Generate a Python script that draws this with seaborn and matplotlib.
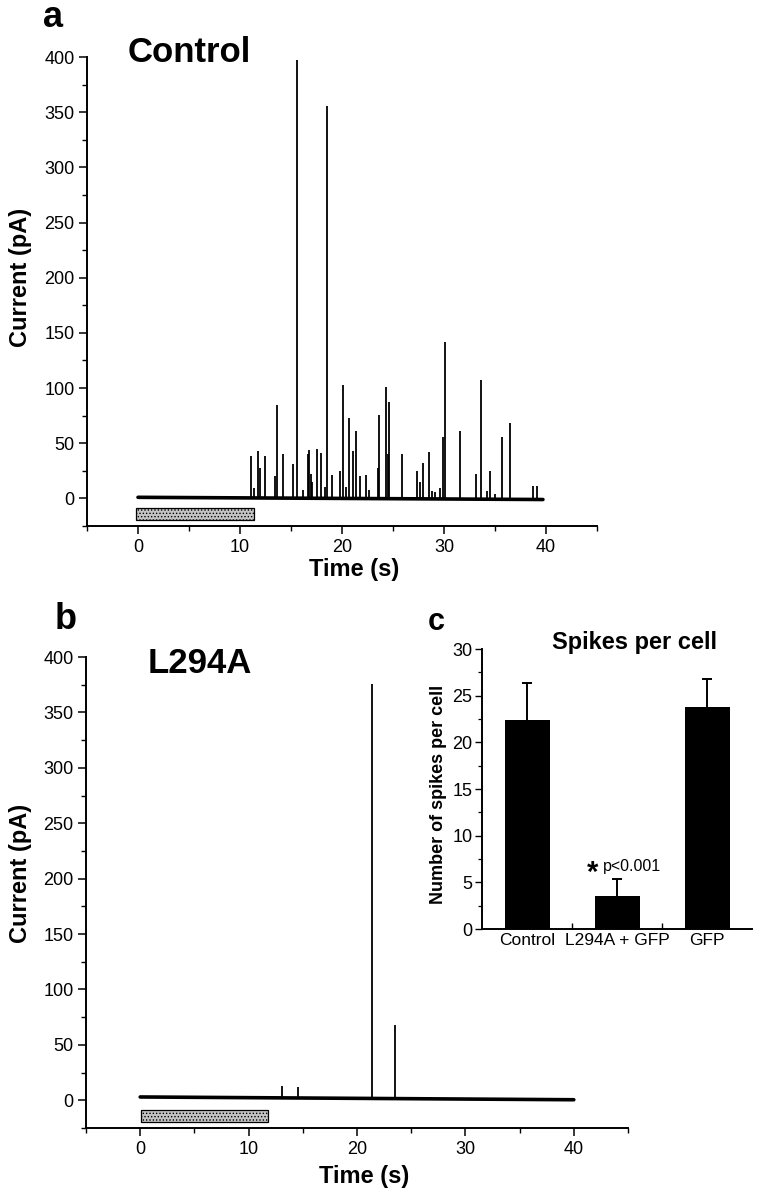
import numpy as np
import pandas as pd
import matplotlib
matplotlib.use('Agg')
import matplotlib.pyplot as plt
from matplotlib.patches import Rectangle
from matplotlib.ticker import MultipleLocator, FixedLocator
import seaborn as sns

# Panel a: control trace, spike times (s) and peak amplitudes (pA)
control_spike_t = [11.1, 11.4, 11.8, 12.0, 12.45, 13.4, 13.67, 14.2, 15.2, 15.6,
                   16.2, 16.7, 16.8, 17.0, 17.1, 17.5, 17.9, 18.3, 18.55, 19.0,
                   19.85, 20.1, 20.4, 20.7, 21.1, 21.4, 21.75, 22.4, 22.6, 23.55,
                   23.65, 24.35, 24.5, 24.6, 25.85, 27.4, 27.6, 27.9, 28.5, 28.8,
                   29.1, 29.6, 29.9, 30.06, 31.55, 33.1, 33.6, 34.2, 34.5, 35.0,
                   35.7, 36.5, 38.75, 39.1]
control_spike_amp = [38, 9, 43, 28, 38, 20, 85, 40, 31, 397,
                     8, 40, 44, 22, 15, 45, 41, 10, 356, 21,
                     25, 103, 10, 73, 43, 61, 20, 21, 8, 28,
                     76, 101, 40, 87, 40, 25, 15, 32, 42, 7,
                     6, 9, 56, 142, 61, 22, 107, 7, 25, 4,
                     56, 68, 11, 11]
control_base_t = [0.0, 39.7]
control_base_v = [1.0, -1.0]
control_stim = [-0.2, 11.4]

# Panel b: L294A trace
mutant_spike_t = [13.1, 14.55, 21.35, 23.5]
mutant_spike_amp = [13, 12, 376, 68]
mutant_base_t = [0.0, 40.0]
mutant_base_v = [3.0, 0.5]
mutant_stim = [0.1, 11.8]

# Panel c: spikes per cell
groups = ['Control', 'L294A + GFP', 'GFP']
spikes_mean = [22.4, 3.5, 23.8]
spikes_sem = [4.0, 1.9, 3.0]

sns.set_style('ticks')
plt.rcParams['font.family'] = ['Liberation Sans', 'DejaVu Sans']
plt.rcParams['hatch.linewidth'] = 0.6
plt.rcParams['axes.linewidth'] = 1.4
for key in ['text.color', 'axes.labelcolor', 'xtick.color', 'ytick.color',
            'axes.edgecolor']:
    plt.rcParams[key] = 'black'

W, H = 759, 1199
fig = plt.figure(figsize=(W / 100, H / 100), dpi=100)


def px_axes(x0, x1, ytop, ybot):
    return fig.add_axes([x0 / W, 1 - ybot / H, (x1 - x0) / W, (ybot - ytop) / H])


def trace_panel(ax, spike_t, spike_amp, base_t, base_v, stim):
    ax.plot(base_t, base_v, color='black', lw=2.6, solid_capstyle='round')
    base_at = np.interp(spike_t, base_t, base_v)
    ax.vlines(spike_t, base_at, spike_amp, color='black', lw=1.3)
    ax.add_patch(Rectangle((stim[0], -20), stim[1] - stim[0], 11,
                           facecolor='#c4c4c4', edgecolor='black', lw=0.9,
                           hatch='.....'))
    ax.set_xlim(-5, 45)
    ax.set_ylim(-25, 400)
    ax.xaxis.set_major_locator(FixedLocator([0, 10, 20, 30, 40]))
    ax.xaxis.set_minor_locator(FixedLocator([-5, 5, 15, 25, 35, 45]))
    ax.yaxis.set_major_locator(FixedLocator([0, 50, 100, 150, 200, 250, 300, 350, 400]))
    ax.yaxis.set_minor_locator(FixedLocator([-25, 25, 75, 125, 175, 225, 275, 325, 375]))
    ax.tick_params(which='major', length=6, width=1.1, labelsize=13, pad=3)
    ax.tick_params(which='minor', length=3.5, width=1.0)
    sns.despine(ax=ax)
    ax.set_xlabel('Time (s)', fontsize=17, fontweight='bold')
    ax.set_ylabel('Current (pA)', fontsize=17, fontweight='bold')


# a
ax_a = px_axes(87, 597, 57, 526)
trace_panel(ax_a, control_spike_t, control_spike_amp, control_base_t,
            control_base_v, control_stim)
ax_a.xaxis.set_label_coords(0.524, -0.068)
ax_a.yaxis.set_label_coords(-0.108, 0.53)

# b
ax_b = px_axes(86, 628, 657, 1128)
trace_panel(ax_b, mutant_spike_t, mutant_spike_amp, mutant_base_t,
            mutant_base_v, mutant_stim)
ax_b.xaxis.set_label_coords(0.513, -0.078)
ax_b.yaxis.set_label_coords(-0.100, 0.54)

# c
ax_c = px_axes(482, 752, 649, 929)
df = pd.DataFrame({'group': groups, 'spikes': spikes_mean})
sns.barplot(data=df, x='group', y='spikes', order=groups, color='black',
            width=0.5, errorbar=None, saturation=1, linewidth=0, ax=ax_c)
# upper error bars only
xpos = np.arange(len(groups))
tops = np.array(spikes_mean) + np.array(spikes_sem)
ax_c.vlines(xpos, spikes_mean, tops, color='black', lw=1.4)
ax_c.hlines(tops, xpos - 0.055, xpos + 0.055, color='black', lw=1.4)
ax_c.set_xlim(-0.5, 2.5)
ax_c.set_ylim(0, 30)
ax_c.yaxis.set_major_locator(MultipleLocator(5))
ax_c.yaxis.set_minor_locator(MultipleLocator(2.5))
ax_c.xaxis.set_minor_locator(FixedLocator([0.5, 1.5]))
ax_c.tick_params(axis='y', which='major', length=5, width=1.0, labelsize=13, pad=2)
ax_c.tick_params(axis='y', which='minor', length=3, width=0.9)
ax_c.tick_params(axis='x', which='major', length=0, labelsize=12.5, pad=3)
ax_c.tick_params(axis='x', which='minor', length=4, width=1.0, direction='in')
sns.despine(ax=ax_c)
ax_c.set_xlabel('')
ax_c.set_ylabel('Number of spikes per cell', fontsize=13, fontweight='bold')
ax_c.yaxis.set_label_coords(-0.13, 0.48)
ax_c.text(0.73, 6.0, '*', fontsize=21, fontweight='bold', ha='center', va='center')
ax_c.text(0.84, 6.7, 'p<0.001', fontsize=11.5, ha='left', va='center')

# panel letters and titles
fig.text(43 / W, 1 - 27 / H, 'a', fontsize=26, fontweight='bold', va='baseline')
fig.text(55 / W, 1 - 629 / H, 'b', fontsize=26, fontweight='bold', va='baseline')
fig.text(428 / W, 1 - 630 / H, 'c', fontsize=22, fontweight='bold', va='baseline')
fig.text(128 / W, 1 - 62 / H, 'Control', fontsize=25, fontweight='bold', va='baseline')
fig.text(148 / W, 1 - 673 / H, 'L294A', fontsize=25, fontweight='bold', va='baseline')
fig.text(552 / W, 1 - 649 / H, 'Spikes per cell', fontsize=17, fontweight='bold',
         va='baseline')

fig.savefig('out.png', dpi=100)
